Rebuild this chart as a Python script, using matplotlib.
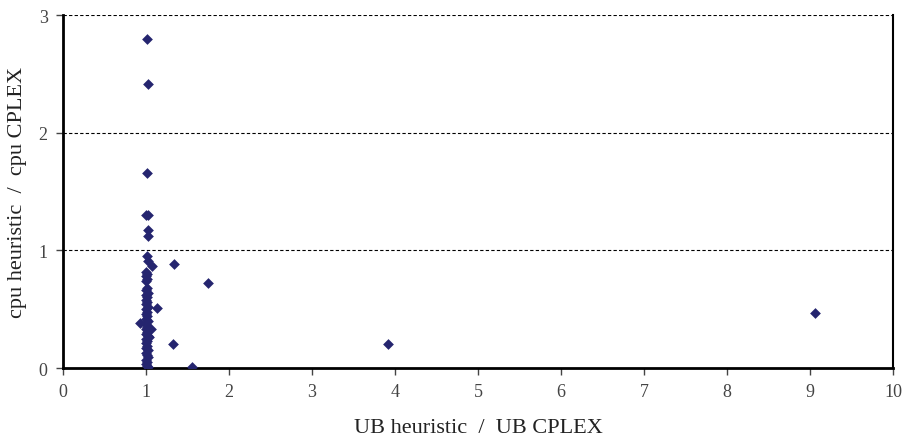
import numpy as np
import matplotlib as mpl
import matplotlib.pyplot as plt

mpl.rcParams['font.family'] = 'serif'
mpl.rcParams['font.serif'] = ['Liberation Serif', 'DejaVu Serif']

# -- data --
# outliers and the sparse points
ub_ratio = [1.01, 1.02, 1.01, 1.00, 1.02, 1.02, 1.02, 1.01, 1.02, 1.07, 1.34,
            0.93, 1.13, 1.33, 1.55, 1.75, 3.92, 9.06, 1.06, 1.04]
cpu_ratio = [2.80, 2.41, 1.66, 1.30, 1.30, 1.17, 1.12, 0.95, 0.91, 0.87, 0.88,
             0.38, 0.51, 0.20, 0.01, 0.72, 0.20, 0.47, 0.33, 0.26]

# dense column at UB ratio ~ 1
ub_cluster = [1.00, 1.01, 1.00, 1.01, 1.00, 1.01, 1.00, 1.02, 1.00, 1.01,
              1.00, 1.01, 1.00, 1.02, 1.00, 1.01, 1.00, 1.01, 1.00, 1.02,
              1.00, 1.01, 1.00, 1.01, 1.00, 1.02, 1.00, 1.01, 1.00, 1.01,
              1.00, 1.02, 1.00, 1.01, 1.02, 1.00, 1.01, 1.00, 1.01, 1.02]
cpu_cluster = [0.82, 0.80, 0.78, 0.76, 0.74, 0.68, 0.66, 0.64, 0.62, 0.60,
               0.58, 0.56, 0.54, 0.52, 0.50, 0.48, 0.46, 0.44, 0.42, 0.40,
               0.37, 0.35, 0.33, 0.31, 0.29, 0.27, 0.25, 0.23, 0.21, 0.19,
               0.17, 0.15, 0.13, 0.11, 0.09, 0.07, 0.05, 0.03, 0.02, 0.01]

x_ticks = [0, 1, 2, 3, 4, 5, 6, 7, 8, 9, 10]
y_ticks = [0, 1, 2, 3]

navy = '#25256F'
gray = '#444444'

fig = plt.figure(figsize=(9.09, 4.39), dpi=100)
sub = fig.add_axes([63/909., 1 - 369/439., (893 - 63)/909., (369 - 16)/439.])

for yy in [1, 2, 3]:
    sub.axhline(yy, color='k', lw=0.8, ls=(0, (3, 2)), zorder=1)

sub.scatter(ub_cluster, cpu_cluster, marker='D', s=30, c=navy, linewidths=0, zorder=3)
sub.scatter(ub_ratio, cpu_ratio, marker='D', s=30, c=navy, linewidths=0, zorder=3)

sub.set_xlim([0, 10])
sub.set_ylim([0, 3])
sub.set_xticks(x_ticks)
sub.set_yticks(y_ticks)
sub.tick_params(direction='out', length=5, width=1, labelsize=13, pad=6,
                color=gray, labelcolor=gray)

sub.spines['top'].set_visible(False)
sub.spines['left'].set_linewidth(2)
sub.spines['bottom'].set_linewidth(2)
sub.spines['right'].set_linewidth(1.5)

sub.set_xlabel('UB heuristic  /  UB CPLEX', fontsize=16, labelpad=13, color='#222222')
sub.set_ylabel('cpu heuristic  /  cpu CPLEX', fontsize=16, labelpad=8, color='#222222')

fig.savefig('out.png', dpi=100)
plt.close()
